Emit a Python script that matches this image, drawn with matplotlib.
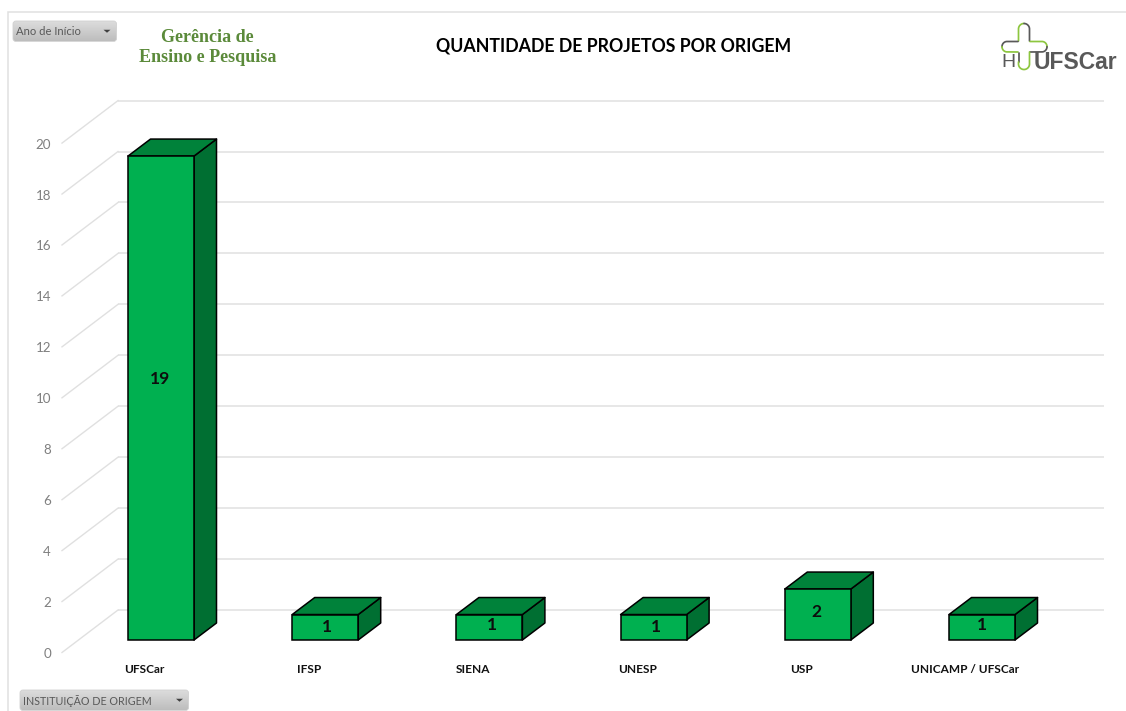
import numpy as np
import matplotlib
matplotlib.use("Agg")
import matplotlib.pyplot as plt
from matplotlib.patches import Polygon, FancyBboxPatch

# ---- data ----
categories = ["UFSCar", "IFSP", "SIENA", "UNESP", "USP", "UNICAMP / UFSCar"]
values = [19, 1, 1, 1, 2, 1]
y_ticks = list(range(0, 21, 2))
title = "QUANTIDADE DE PROJETOS POR ORIGEM"
filter_top = "Ano de Início"
filter_bottom = "INSTITUIÇÃO DE ORIGEM"

# ---- geometry (pixels of the 1126x711 picture) ----
W, H = 1126, 711
X0, STEP = 161.0, 164.2          # centre of first bar front, category spacing
Y0, UNIT = 640.0, 25.47          # baseline of bar fronts, pixels per unit
BAR_W = 66.0
DX, DY = 22.5, 17.0              # bar depth
WALL_DY = 30.0                   # wall baseline above bar baseline
WALL_L, WALL_R = 118.0, 1104.0
SIDE_L, SIDE_DY = 62.0, 42.5
FRONT, TOP, SIDE, EDGE = "#00B050", "#00823A", "#006F32", "#000000"
GRID = "#E0E0E0"
SANS = "Lato"

fig = plt.figure(figsize=(W / 100, H / 100), dpi=100, facecolor="white")
ax = fig.add_axes([0, 0, 1, 1])
ax.set_xlim(-X0 / STEP, (W - X0) / STEP)
ax.set_ylim((Y0 - H) / UNIT, Y0 / UNIT)
ax.axis("off")
ux, uy = 1 / STEP, 1 / UNIT

# walls
for v in y_ticks:
    yb = v + WALL_DY * uy
    ax.plot([(WALL_L - X0) * ux, (WALL_R - X0) * ux], [yb, yb], color=GRID, lw=1.1, zorder=1,
            solid_capstyle="butt")
    ax.plot([(SIDE_L - X0) * ux, (WALL_L - X0) * ux], [yb - SIDE_DY * uy, yb], color=GRID, lw=1.0, zorder=1)
    ax.text((51 - X0) * ux, yb - (SIDE_DY + 1.5) * uy, str(v), ha="right", va="center",
            color="#7F7F7F", fontsize=9.6, family=SANS, zorder=3)

# bars
x = np.arange(len(values))
bw = BAR_W * ux
dx, dy = DX * ux, DY * uy
for i, v in zip(x, values):
    l, r = i - bw / 2, i + bw / 2
    ax.add_patch(Polygon([(r, 0), (r + dx, dy), (r + dx, v + dy), (r, v)], closed=True,
                         fc=SIDE, ec=EDGE, lw=1.1, zorder=4, joinstyle="round"))
    ax.add_patch(Polygon([(l, v), (l + dx, v + dy), (r + dx, v + dy), (r, v)], closed=True,
                         fc=TOP, ec=EDGE, lw=1.1, zorder=4, joinstyle="round"))
ax.bar(x, values, width=bw, bottom=0, color=FRONT, edgecolor=EDGE, linewidth=1.1, zorder=5)

# data labels: nudged off the bar centre (pixels right, pixels up)
label_nudge = [(-1, 19), (2, 0), (3, 2), (2, 0), (-1, 3), (0, 2)]
for i, v, (nx, ny) in zip(x, values, label_nudge):
    ax.text(i + nx * ux, v / 2 + ny * uy, str(v), ha="center", va="center", fontsize=12.5,
            fontweight="bold", family=SANS, color="#0D0D0D", zorder=6)

# category labels
for i, c in zip(x, categories):
    ax.text(i - 16.5 * ux, (Y0 - 669.5) * uy, c, ha="center", va="center", fontsize=8.55,
            fontweight="bold", family=SANS, color="#111111", zorder=6)

# ---- overlay in picture pixels: frame, title, filters, logo ----
ov = fig.add_axes([0, 0, 1, 1], facecolor="none")
ov.axis("off")


def dropdown(x0, y0, x1, y1, label, arrow_x, size):
    im = ov.imshow(np.linspace(0.87, 0.74, 64).reshape(-1, 1), cmap="gray", vmin=0, vmax=1,
                   extent=(x0, x1, y1, y0), aspect="auto", zorder=8)
    box = FancyBboxPatch((x0 + 2, y0 + 2), x1 - x0 - 4, y1 - y0 - 4, boxstyle="round,pad=2,rounding_size=3",
                         fc="none", ec="#D0D0D0", lw=0.6, zorder=9)
    ov.add_patch(box)
    im.set_clip_path(box)
    ov.text(x0 + 3, (y0 + y1) / 2 + 0.5, label, ha="left", va="center", fontsize=size, family=SANS,
            color="#595959", zorder=10)
    ov.add_patch(Polygon([(arrow_x - 3.5, (y0 + y1) / 2 - 1.5), (arrow_x + 3.5, (y0 + y1) / 2 - 1.5),
                          (arrow_x, (y0 + y1) / 2 + 1.5)], closed=True, fc="#404040", ec="none", zorder=10))


dropdown(13, 21, 116.5, 41.5, filter_top, 107, 8.1)
dropdown(20, 690, 188.5, 710.5, filter_bottom, 179.5, 7.75)

ov.plot([1126, 7.5, 7.5], [12, 12, 711], color="#E0E0E0", lw=1.1, zorder=2, solid_joinstyle="miter")

ov.text(613.5, 46, title, ha="center", va="center", fontsize=12.8, fontweight="bold",
        family=SANS, color="black")
ov.text(207.5, 37, "Gerência de", ha="center", va="center", fontsize=13, fontweight="bold",
        family="Liberation Serif", color="#5B8A3A")
ov.text(207.5, 58, "Ensino e Pesquisa", ha="center", va="center", fontsize=13, fontweight="bold",
        family="Liberation Serif", color="#5B8A3A")

# logo
GREEN_L, GREY_L = "#8DC63F", "#595959"


def arc(cx, cy, rx, ry, a0, a1):
    t = np.radians(np.linspace(a0, a1, 24))
    return cx + rx * np.cos(t), cy - ry * np.sin(t)


def stroke(c, *parts):
    xs = np.concatenate([np.atleast_1d(p[0]) for p in parts])
    ys = np.concatenate([np.atleast_1d(p[1]) for p in parts])
    ov.plot(xs, ys, color=c, lw=1.25, solid_capstyle="round", zorder=7)


stroke(GREEN_L, ([1018.5], [41]), arc(1024, 29, 5.5, 5.5, 180, 90))
stroke(GREY_L, arc(1024, 29, 5.5, 5.5, 90, 0), ([1029.5], [41]))
stroke(GREY_L, ([1018], [41.5]), arc(1007, 46.7, 5, 5.2, 90, 180))
stroke(GREEN_L, arc(1007, 46.7, 5, 5.2, 180, 270), ([1018], [52]))
stroke(GREEN_L, ([1030], [41.5]), arc(1042, 46.7, 5, 5.2, 90, 0))
stroke(GREY_L, arc(1042, 46.7, 5, 5.2, 0, -90), ([1030], [52]))
stroke(GREY_L, ([1018.5], [53]), ([1018.5], [62]))
stroke(GREEN_L, ([1018.5], [62]), arc(1024, 64, 5.5, 5.5, 180, 360), ([1029.5], [52]))
ov.text(1008.5, 62.5, "H", ha="center", va="center", fontsize=14, family="Liberation Sans",
        color="#595959", zorder=7)
ov.text(1075, 62.5, "UFSCar", ha="center", va="center", fontsize=16.5, fontweight="bold",
        family="Liberation Sans", color="#595959", zorder=7)

ov.set_xlim(0, W)
ov.set_ylim(H, 0)

fig.savefig("out.png", dpi=100, facecolor="white")
